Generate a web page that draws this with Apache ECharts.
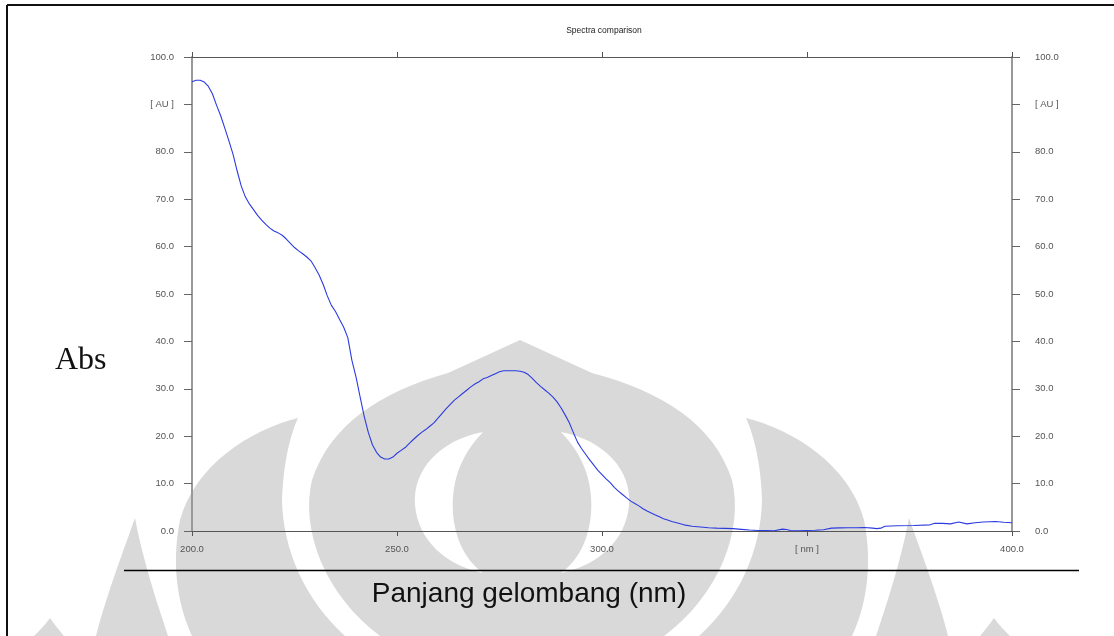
<!DOCTYPE html>
<html>
<head>
<meta charset="utf-8">
<script src="https://cdn.jsdelivr.net/npm/echarts@6/dist/echarts.min.js"></script>
<style>
  html, body { margin: 0; padding: 0; background: #fff; }
  #chart { width: 1114px; height: 636px; }
</style>
</head>
<body>
<div id="chart"></div>
<script>
// wavelength (nm) and absorbance (AU)
var wavelengths = [
  200, 201, 202, 203, 204, 205, 206, 207, 208, 209,
  210, 211, 212, 213, 214, 215, 216, 217, 218, 219,
  220, 221, 222, 223, 224, 225, 226, 227, 228, 229,
  230, 231, 232, 233, 234, 235, 236, 237, 238, 239,
  240, 241, 242, 243, 244, 245, 246, 247, 248, 249,
  250, 251, 252, 253, 254, 255, 256, 257, 258, 259,
  260, 261, 262, 263, 264, 265, 266, 267, 268, 269,
  270, 271, 272, 273, 274, 275, 276, 277, 278, 279,
  280, 281, 282, 283, 284, 285, 286, 287, 288, 289,
  290, 291, 292, 293, 294, 295, 296, 297, 298, 299,
  300, 301, 302, 303, 304, 305, 306, 307, 308, 309,
  310, 311, 312, 313, 314, 315, 316, 317, 318, 320,
  322, 324, 326, 328, 330, 332, 334, 336, 338, 340,
  342, 344, 345, 346, 348, 350, 352, 354, 356, 358,
  360, 362, 364, 366, 367, 368, 369, 372, 376, 380,
  381, 383, 385, 387, 389, 391, 393, 396, 398, 400
];
var absorbance = [
  94.8, 95.1, 95.1, 94.7, 93.8, 92.2, 89.8, 87.6, 85.0, 82.3,
  79.5, 76.0, 72.8, 70.5, 69.0, 67.8, 66.6, 65.6, 64.7, 63.9,
  63.3, 62.9, 62.4, 61.6, 60.7, 59.8, 59.1, 58.5, 57.8, 57.0,
  55.6, 54.0, 52.0, 49.6, 47.6, 46.3, 44.6, 43.0, 40.8, 36.0,
  32.5, 28.3, 24.2, 20.8, 18.2, 16.6, 15.6, 15.2, 15.2, 15.6,
  16.4, 17.0, 17.6, 18.5, 19.3, 20.1, 20.8, 21.4, 22.1, 22.8,
  23.8, 24.8, 25.8, 26.7, 27.6, 28.3, 29.0, 29.7, 30.4, 31.0,
  31.5, 32.1, 32.4, 32.8, 33.2, 33.6, 33.8, 33.8, 33.8, 33.8,
  33.7, 33.5, 33.0, 32.2, 31.3, 30.5, 29.8, 29.1, 28.3, 27.3,
  26.0, 24.5, 22.9, 20.8, 18.8, 17.4, 16.2, 15.0, 13.9, 12.8,
  11.9, 11.0, 10.2, 9.2, 8.4, 7.7, 7.0, 6.3, 5.8, 5.3,
  4.7, 4.2, 3.8, 3.4, 3.0, 2.6, 2.3, 2.0, 1.8, 1.3,
  1.0, 0.85, 0.7, 0.6, 0.55, 0.5, 0.35, 0.2, 0.1, 0.1,
  0.05, 0.4, 0.3, 0.1, 0.05, 0.1, 0.15, 0.25, 0.6, 0.65,
  0.7, 0.7, 0.75, 0.6, 0.5, 0.6, 1.0, 1.1, 1.15, 1.3,
  1.6, 1.6, 1.5, 1.9, 1.5, 1.75, 1.9, 2.0, 1.85, 1.75
];
var yTickLabels = ['0.0', '10.0', '20.0', '30.0', '40.0', '50.0', '60.0', '70.0', '80.0', '[ AU ]', '100.0'];
var xTickLabels = ['200.0', '250.0', '300.0', '[ nm ]', '400.0'];

var chart = echarts.init(document.getElementById('chart'));

var gray = '#d9d9d9';
// background watermark (logo), decoration only
var watermark = [
  // central flame
  'M520,340 L448,373 C380,392 330,425 312,480 C300,530 325,595 380,636 L664,636 C719,595 744,530 732,480 C714,425 664,392 592,373 Z',
  // left petal
  'M298,418 C250,430 195,465 180,520 C170,570 180,610 192,636 L345,636 C305,600 283,550 282,500 C283,470 288,440 298,418 Z',
  // right petal
  'M746,418 C794,430 849,465 864,520 C874,570 864,610 852,636 L699,636 C739,600 761,550 762,500 C761,470 756,440 746,418 Z',
  // left spike
  'M135,518 C120,560 105,600 96,636 L168,636 C156,600 143,560 135,518 Z',
  // right spike
  'M909,518 C924,560 939,600 948,636 L876,636 C888,600 901,560 909,518 Z',
  // small outer tips
  'M50,618 C45,625 40,630 34,636 L64,636 C59,630 55,625 50,618 Z',
  'M994,618 C999,625 1004,630 1010,636 L980,636 C985,630 989,625 994,618 Z'
];
var eyeHoles = [
  'M483,432 C440,440 412,470 415,505 C418,540 445,565 483,573 C458,555 451,522 453,497 C455,470 466,450 483,432 Z',
  'M561,432 C604,440 632,470 629,505 C626,540 599,565 561,573 C586,555 593,522 591,497 C589,470 578,450 561,432 Z'
];

// turn a simple absolute M/L/C/Z path into polygon points
function pathToPoints(d) {
  var tokens = d.match(/[MLCZ]|-?[\d.]+/g);
  var pts = [], i = 0, cmd = null, cur = [0, 0];
  while (i < tokens.length) {
    var t = tokens[i];
    if (/[MLCZ]/.test(t)) { cmd = t; i++; if (cmd === 'Z') continue; }
    if (cmd === 'M' || cmd === 'L') {
      cur = [+tokens[i], +tokens[i + 1]];
      pts.push(cur);
      i += 2;
    } else if (cmd === 'C') {
      var p1 = [+tokens[i], +tokens[i + 1]], p2 = [+tokens[i + 2], +tokens[i + 3]], p3 = [+tokens[i + 4], +tokens[i + 5]];
      for (var s = 1; s <= 16; s++) {
        var u = s / 16, a = (1 - u) * (1 - u) * (1 - u), b = 3 * (1 - u) * (1 - u) * u, c = 3 * (1 - u) * u * u, e = u * u * u;
        pts.push([a * cur[0] + b * p1[0] + c * p2[0] + e * p3[0], a * cur[1] + b * p1[1] + c * p2[1] + e * p3[1]]);
      }
      cur = p3;
      i += 6;
    } else {
      i++;
    }
  }
  return pts;
}

var graphics = [];
watermark.forEach(function (p) {
  graphics.push({ type: 'polygon', z: -10, silent: true, shape: { points: pathToPoints(p) }, style: { fill: gray } });
});
eyeHoles.forEach(function (p) {
  graphics.push({ type: 'polygon', z: -9, silent: true, shape: { points: pathToPoints(p) }, style: { fill: '#fff' } });
});
// frame and separator lines
graphics.push(
  { type: 'line', z: 5, shape: { x1: 7, y1: 5, x2: 1114, y2: 5 }, style: { stroke: '#111', lineWidth: 2 } },
  { type: 'line', z: 5, shape: { x1: 7, y1: 5, x2: 7, y2: 636 }, style: { stroke: '#111', lineWidth: 2 } },
  { type: 'line', z: 5, shape: { x1: 124, y1: 570.5, x2: 1079, y2: 570.5 }, style: { stroke: '#000', lineWidth: 1.5 } },
  { type: 'text', z: 5, x: 55, y: 345, style: { text: 'Abs', font: '32px "Liberation Serif", "Times New Roman", serif', fill: '#111' } },
  { type: 'text', z: 5, x: 529, y: 580, style: { text: 'Panjang gelombang (nm)', font: '28px "Liberation Sans", Arial, sans-serif', fill: '#111', align: 'center' } },
  { type: 'text', z: 5, x: 604, y: 26, style: { text: 'Spectra comparison', font: '8.5px "Liberation Sans", Arial, sans-serif', fill: '#222', align: 'center' } }
);

var labelStyle = { color: '#555', fontSize: 9.5, fontFamily: '"Liberation Sans", Arial, sans-serif' };

var option = {
  backgroundColor: '#fff',
  animation: false,
  grid: { left: 192, right: 102, top: 57, bottom: 105, containLabel: false },
  xAxis: [
    {
      type: 'value', position: 'bottom', min: 200, max: 400, interval: 50,
      axisLine: { onZero: false, lineStyle: { color: '#555', width: 1 } },
      axisTick: { inside: false, length: 5, lineStyle: { color: '#555' } },
      axisLabel: Object.assign({ margin: 13, formatter: function (v, i) { return xTickLabels[i]; } }, labelStyle),
      splitLine: { show: false }
    },
    {
      type: 'value', position: 'top', min: 200, max: 400, interval: 50,
      axisLine: { show: true, onZero: false, lineStyle: { color: '#555', width: 1 } },
      axisTick: { show: true, inside: false, length: 5, lineStyle: { color: '#555' } },
      axisLabel: { show: false },
      splitLine: { show: false }
    }
  ],
  yAxis: [
    {
      type: 'value', position: 'left', min: 0, max: 100, interval: 10,
      axisLine: { show: true, onZero: false, lineStyle: { color: '#999', width: 2 } },
      axisTick: { show: true, inside: false, length: 8, lineStyle: { color: '#666' } },
      axisLabel: Object.assign({ margin: 18, formatter: function (v, i) { return yTickLabels[i]; } }, labelStyle),
      splitLine: { show: false }
    },
    {
      type: 'value', position: 'right', min: 0, max: 100, interval: 10,
      axisLine: { show: true, onZero: false, lineStyle: { color: '#999', width: 2 } },
      axisTick: { show: true, inside: false, length: 8, lineStyle: { color: '#666' } },
      axisLabel: Object.assign({ margin: 23, formatter: function (v, i) { return yTickLabels[i]; } }, labelStyle),
      splitLine: { show: false }
    }
  ],
  graphic: graphics,
  series: [
    {
      type: 'line',
      xAxisIndex: 0,
      yAxisIndex: 0,
      showSymbol: false,
      smooth: false,
      lineStyle: { color: '#2b3be0', width: 1.1 },
      data: wavelengths.map(function (w, i) { return [w, absorbance[i]]; })
    }
  ]
};
chart.setOption(option);
</script>
</body>
</html>
